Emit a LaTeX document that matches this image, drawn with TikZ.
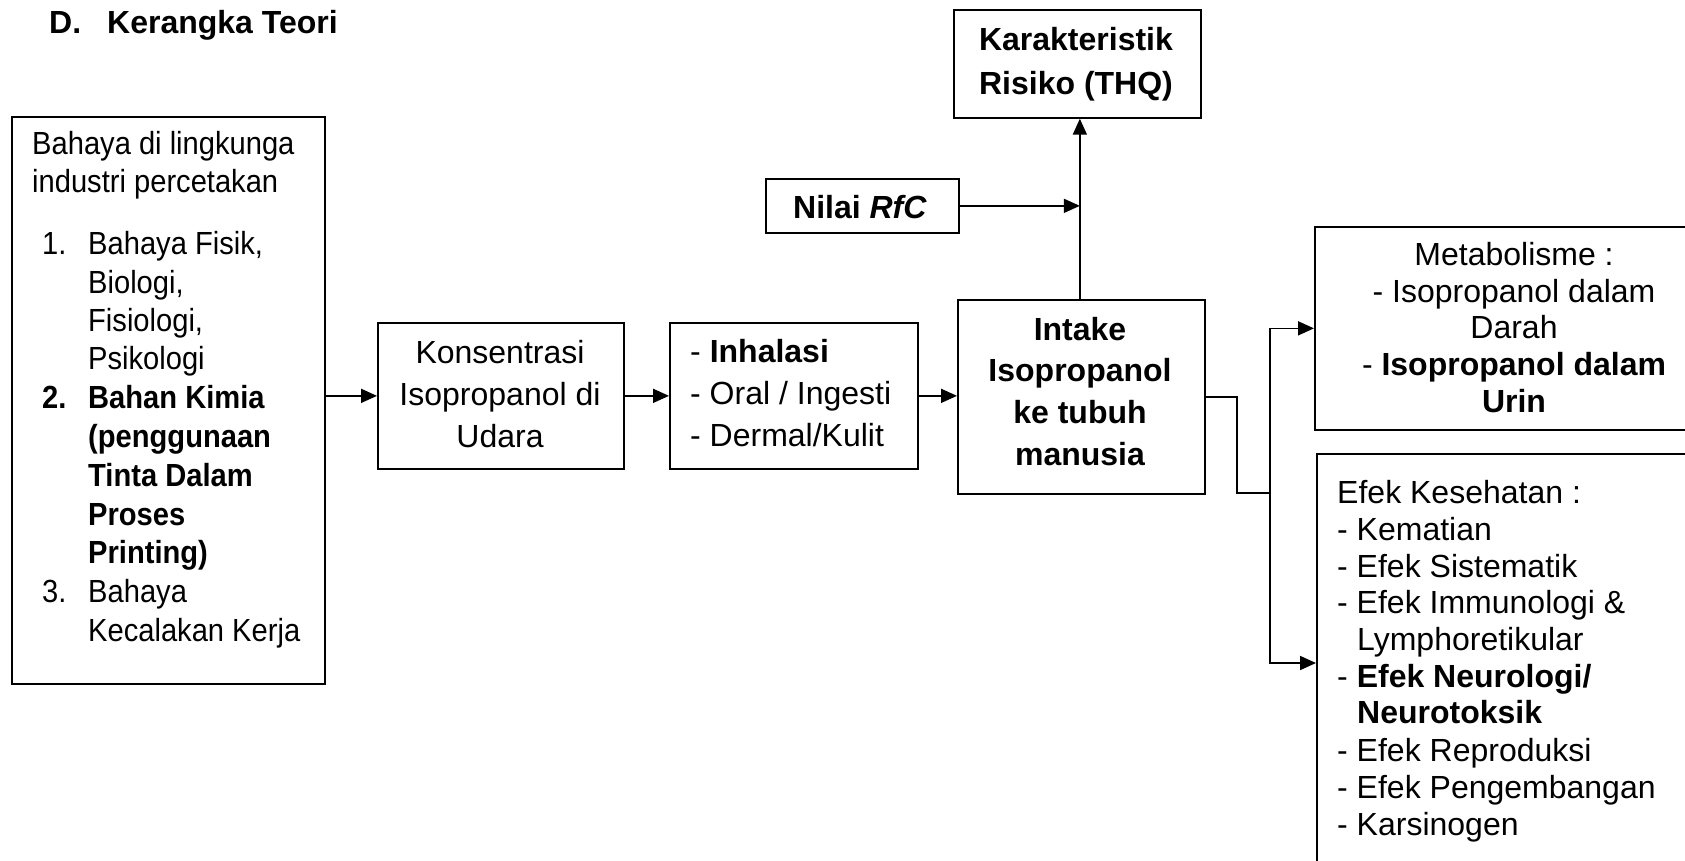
\documentclass[tikz,border=0pt]{standalone}
\usepackage{fontspec}
\setmainfont{Liberation Sans}
\newfontfamily\narrowfont[FakeStretch=0.91]{Liberation Sans}
\usetikzlibrary{arrows.meta,calc}
\begin{document}
\begin{tikzpicture}[x=1pt,y=-1pt,
  box/.style={draw,line width=1.7pt,inner sep=0pt,anchor=north west},
  txt/.style={inner sep=0pt,anchor=base west,font=\fontsize{32}{38}\selectfont},
  ctxt/.style={inner sep=0pt,anchor=base,font=\fontsize{32}{38}\selectfont},
  btxt/.style={inner sep=0pt,anchor=base,font=\bfseries\fontsize{32}{38}\selectfont},
  ntxt/.style={inner sep=0pt,anchor=base west,font=\narrowfont\fontsize{32}{38}\selectfont},
  nbtxt/.style={inner sep=0pt,anchor=base west,font=\narrowfont\bfseries\fontsize{32}{38}\selectfont},
  arr/.style={line width=1.7pt,-{Triangle[length=16pt,width=14pt]}},
  conn/.style={line width=1.7pt}]
\useasboundingbox (0,0) rectangle (1685,860);
\clip (0,0) rectangle (1685,860);
\fill[white] (0,0) rectangle (1685,860);

% title
\node[txt,font=\bfseries\fontsize{32}{38}\selectfont] (tD) at (49,33) {D.};
\node[txt,font=\bfseries\fontsize{32}{38}\selectfont] (tK) at (107,33) {Kerangka Teori};

% boxes
\node[box,minimum width=313pt,minimum height=567pt] (haz) at (11,116) {};
\node[box,minimum width=246pt,minimum height=146pt] (kons) at (377,322) {};
\node[box,minimum width=248pt,minimum height=146pt] (route) at (669,322) {};
\node[box,minimum width=247pt,minimum height=194pt] (intake) at (957,299) {};
\node[box,minimum width=247pt,minimum height=108pt] (karak) at (953,9) {};
\node[box,minimum width=193pt,minimum height=54pt] (rfc) at (765,178) {};
\node[box,minimum width=400pt,minimum height=203pt] (meta) at (1314,226) {};
\node[box,minimum width=420pt,minimum height=450pt] (eff) at (1316,453) {};

% hazard text
\node[ntxt] at (32,154) {Bahaya di lingkunga};
\node[ntxt] at (32,192) {industri percetakan};
\node[ntxt] at (42,254) {1.};
\node[ntxt] at (88,254) {Bahaya Fisik,};
\node[ntxt] at (88,293) {Biologi,};
\node[ntxt] at (88,331) {Fisiologi,};
\node[ntxt] at (88,369) {Psikologi};
\node[nbtxt] at (42,408) {2.};
\node[nbtxt] at (88,408) {Bahan Kimia};
\node[nbtxt] at (88,447) {(penggunaan};
\node[nbtxt] at (88,486) {Tinta Dalam};
\node[nbtxt] at (88,525) {Proses};
\node[nbtxt] at (88,563) {Printing)};
\node[ntxt] at (42,602) {3.};
\node[ntxt] at (88,602) {Bahaya};
\node[ntxt] at (88,641) {Kecalakan Kerja};

% konsentrasi text
\node[ctxt] at (500,363) {Konsentrasi};
\node[ctxt] at (500,405) {Isopropanol di};
\node[ctxt] at (500,447) {Udara};

% route text
\node[txt] at (690,362) {- \textbf{Inhalasi}};
\node[txt] at (690,404) {- Oral / Ingesti};
\node[txt] at (690,446) {- Dermal/Kulit};

% intake text
\node[btxt] at (1080,340) {Intake};
\node[btxt] at (1080,381) {Isopropanol};
\node[btxt] at (1080,423) {ke tubuh};
\node[btxt] at (1080,465) {manusia};

% karakteristik text
\node[btxt] at (1076,50) {Karakteristik};
\node[btxt] at (1076,94) {Risiko (THQ)};

% RfC text
\node[btxt] at (860,218) {Nilai \textit{RfC}};

% metabolisme text
\node[ctxt] at (1514,265) {Metabolisme :};
\node[ctxt] at (1514,302) {- Isopropanol dalam};
\node[ctxt] at (1514,338) {Darah};
\node[ctxt] at (1514,375) {- \textbf{Isopropanol dalam}};
\node[btxt] at (1514,412) {Urin};

% effects text
\node[txt] at (1337,503) {Efek Kesehatan :};
\node[txt] at (1337,540) {- Kematian};
\node[txt] at (1337,577) {- Efek Sistematik};
\node[txt] at (1337,613) {- Efek Immunologi \&};
\node[txt] at (1357,650) {Lymphoretikular};
\node[txt] at (1337,687) {- \textbf{Efek Neurologi/}};
\node[txt,font=\bfseries\fontsize{32}{38}\selectfont] at (1357,723) {Neurotoksik};
\node[txt] at (1337,761) {- Efek Reproduksi};
\node[txt] at (1337,798) {- Efek Pengembangan};
\node[txt] at (1337,835) {- Karsinogen};

% connectors
\draw[arr] (haz.east |- kons.west) -- (kons.west);
\draw[arr] (kons.east) -- (route.west);
\draw[arr] (route.east) -- (route.east -| intake.west);
\draw[arr] ([xshift=-1.5pt]intake.north) -- ([xshift=-1.5pt]intake.north |- karak.south);
\draw[arr] (rfc.east) -- ([xshift=-1.5pt]rfc.east -| intake.north);
\coordinate (bend) at (1237,493);
\coordinate (split) at (1270,493);
\draw[conn] (intake.east) -| (bend) -- (split);
\draw[arr] (split) |- (meta.west);
\draw[arr] (split) |- ($(eff.north west)+(0,210)$);
\end{tikzpicture}
\end{document}
